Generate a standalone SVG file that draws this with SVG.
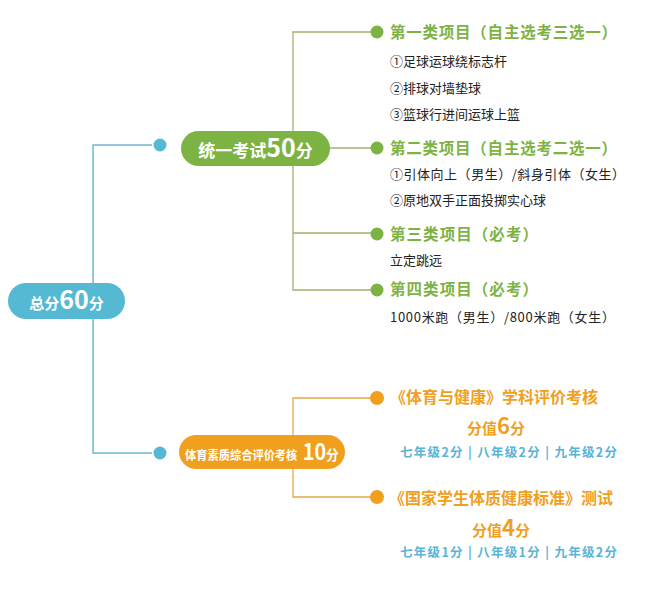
<svg xmlns="http://www.w3.org/2000/svg" width="650" height="613" viewBox="0 0 650 613">
<style>
text{font-family:"Noto Sans CJK SC","Noto Sans",sans-serif}
.w{fill:#fff;font-weight:bold}
.gh{fill:#7db343;font-weight:bold;font-size:15.5px}
.it{fill:#222;font-size:13px}
.oh{fill:#f0a01e;font-weight:bold;font-size:16px}
.ov{fill:#f0a01e;font-weight:bold}
.gr{fill:#5ab4d6;font-weight:bold;font-size:12.5px}
.lb{stroke:#6cb8d3;stroke-width:1.5;fill:none}
.lg{stroke:#a2b26e;stroke-width:1.3;fill:none}
.lo{stroke:#e8a84a;stroke-width:1.3;fill:none}
</style>
<rect width="650" height="613" fill="#fff"/>
<g id="connectors">
<path class="lb" d="M152,145 H93 V453 H152"/>
<path class="lg" d="M371,32 H293 V290 H371 M293,148 H371 M293,233 H371"/>
<path class="lo" d="M371,398 H293 V497 H371"/>
<circle cx="160" cy="145" r="6.5" fill="#56b9d4"/>
<circle cx="160" cy="453" r="6.5" fill="#56b9d4"/>
<circle cx="377" cy="32" r="6.5" fill="#7db343"/>
<circle cx="377" cy="148" r="6.5" fill="#7db343"/>
<circle cx="377" cy="234" r="6.5" fill="#7db343"/>
<circle cx="377" cy="290" r="6.5" fill="#7db343"/>
<circle cx="377" cy="398" r="7" fill="#f0a01e"/>
<circle cx="377" cy="497" r="7" fill="#f0a01e"/>
</g>
<g id="root">
<rect x="8" y="283" width="117" height="36" rx="18" fill="#56b9d4"/>
<text class="w" x="66.5" y="309" text-anchor="middle"><tspan font-size="15">总分</tspan><tspan font-size="25">60</tspan><tspan font-size="15">分</tspan></text>
</g>
<g id="exam">
<rect x="181" y="131" width="149" height="35" rx="17.5" fill="#7db343"/>
<text class="w" x="255.5" y="157" text-anchor="middle"><tspan font-size="17">统一考试</tspan><tspan font-size="25">50</tspan><tspan font-size="17">分</tspan></text>
</g>
<g id="cat1">
<text class="gh" x="390" y="38" textLength="227" lengthAdjust="spacing">第一类项目（自主选考三选一）</text>
<text class="it" x="390" y="66">①足球运球绕标志杆</text>
<text class="it" x="390" y="93">②排球对墙垫球</text>
<text class="it" x="390" y="119">③篮球行进间运球上篮</text>
</g>
<g id="cat2">
<text class="gh" x="390" y="154" textLength="227" lengthAdjust="spacing">第二类项目（自主选考二选一）</text>
<text class="it" x="390" y="179" textLength="235" lengthAdjust="spacing">①引体向上（男生）/斜身引体（女生）</text>
<text class="it" x="390" y="205">②原地双手正面投掷实心球</text>
</g>
<g id="cat3">
<text class="gh" x="390" y="240" textLength="148" lengthAdjust="spacing">第三类项目（必考）</text>
<text class="it" x="390" y="265">立定跳远</text>
</g>
<g id="cat4">
<text class="gh" x="390" y="295" textLength="148" lengthAdjust="spacing">第四类项目（必考）</text>
<text class="it" x="390" y="322" textLength="225" lengthAdjust="spacing">1000米跑（男生）/800米跑（女生）</text>
</g>
<g id="quality">
<rect x="179" y="435" width="166" height="34" rx="17" fill="#f0a01e"/>
<text class="w" transform="translate(185,459.5) scale(0.9,1)" font-size="12.5">体育素质综合评价考核<tspan dx="6" font-size="22" y="0.5">10</tspan><tspan font-size="14">分</tspan></text>
</g>
<g id="health">
<text class="oh" x="390" y="403">《体育与健康》学科评价考核</text>
<text class="ov" x="496" y="434" text-anchor="middle"><tspan font-size="15">分值</tspan><tspan font-size="22">6</tspan><tspan font-size="15">分</tspan></text>
<text class="gr" x="400" y="457" textLength="217" lengthAdjust="spacing">七年级2分 |  八年级2分 |  九年级2分</text>
</g>
<g id="standard">
<text class="oh" x="389" y="504">《国家学生体质健康标准》测试</text>
<text class="ov" x="501" y="536" text-anchor="middle"><tspan font-size="15">分值</tspan><tspan font-size="22">4</tspan><tspan font-size="15">分</tspan></text>
<text class="gr" x="400" y="557" textLength="217" lengthAdjust="spacing">七年级1分 |  八年级1分 |  九年级2分</text>
</g>
</svg>
